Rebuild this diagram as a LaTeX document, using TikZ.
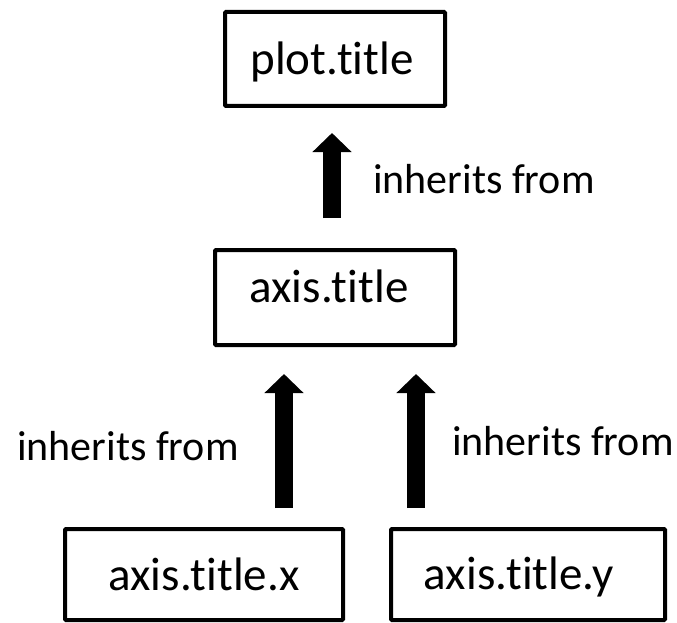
\documentclass[tikz,border=0pt]{standalone}
\usepackage{fontspec}
\setmainfont[RawFeature=-liga]{Carlito}
\usetikzlibrary{arrows.meta}
\begin{document}
\begin{tikzpicture}[x=1pt,y=-1pt,
  box/.style={draw=black, line width=4pt, rounded corners=1pt, inner sep=0pt},
  lbl/.style={anchor=base, font=\fontsize{47}{56}\selectfont, inner sep=0pt},
  txt/.style={anchor=base west, font=\fontsize{42}{50}\selectfont, inner sep=0pt},
  bigarrow/.style={line width=18pt, -{Triangle[width=38pt,length=19pt]}}]
\useasboundingbox (0,0) rectangle (677,623);
% boxes
\node[box, minimum width=220pt, minimum height=94pt] (plot) at (335,59) {};
\node[lbl] (plott) at (332,75) {plot.title};
\node[box, minimum width=240pt, minimum height=95pt] (axis) at (335,297.5) {};
\node[lbl] (axist) at (329,302) {axis.title};
\node[box, minimum width=278pt, minimum height=91pt] (axx) at (204,574.5) {};
\node[lbl] (axxt) at (204,590) {axis.title.x};
\node[box, minimum width=274pt, minimum height=91pt] (axy) at (528,574.5) {};
\node[lbl] (axyt) at (519,589) {axis.title.y};
% arrow end points
\coordinate (a1s) at ([yshift=30pt]axis.north -| 332,0);
\coordinate (a1e) at ([yshift=-25pt]plot.south -| 332,0);
\coordinate (a2s) at ([yshift=19pt]axx.north -| 284,0);
\coordinate (a2e) at ([yshift=-27pt]axis.south -| 284,0);
\coordinate (a3s) at ([yshift=19pt]axy.north -| 416,0);
\coordinate (a3e) at ([yshift=-27pt]axis.south -| 416,0);
\draw[bigarrow] (a1s) -- (a1e);
\draw[bigarrow] (a2s) -- (a2e);
\draw[bigarrow] (a3s) -- (a3e);
% labels
\node[txt] (l1) at (373,193) {inherits from};
\node[txt] (l2) at (17,460) {inherits from};
\node[txt] (l3) at (452,455) {inherits from};
\end{tikzpicture}
\end{document}
